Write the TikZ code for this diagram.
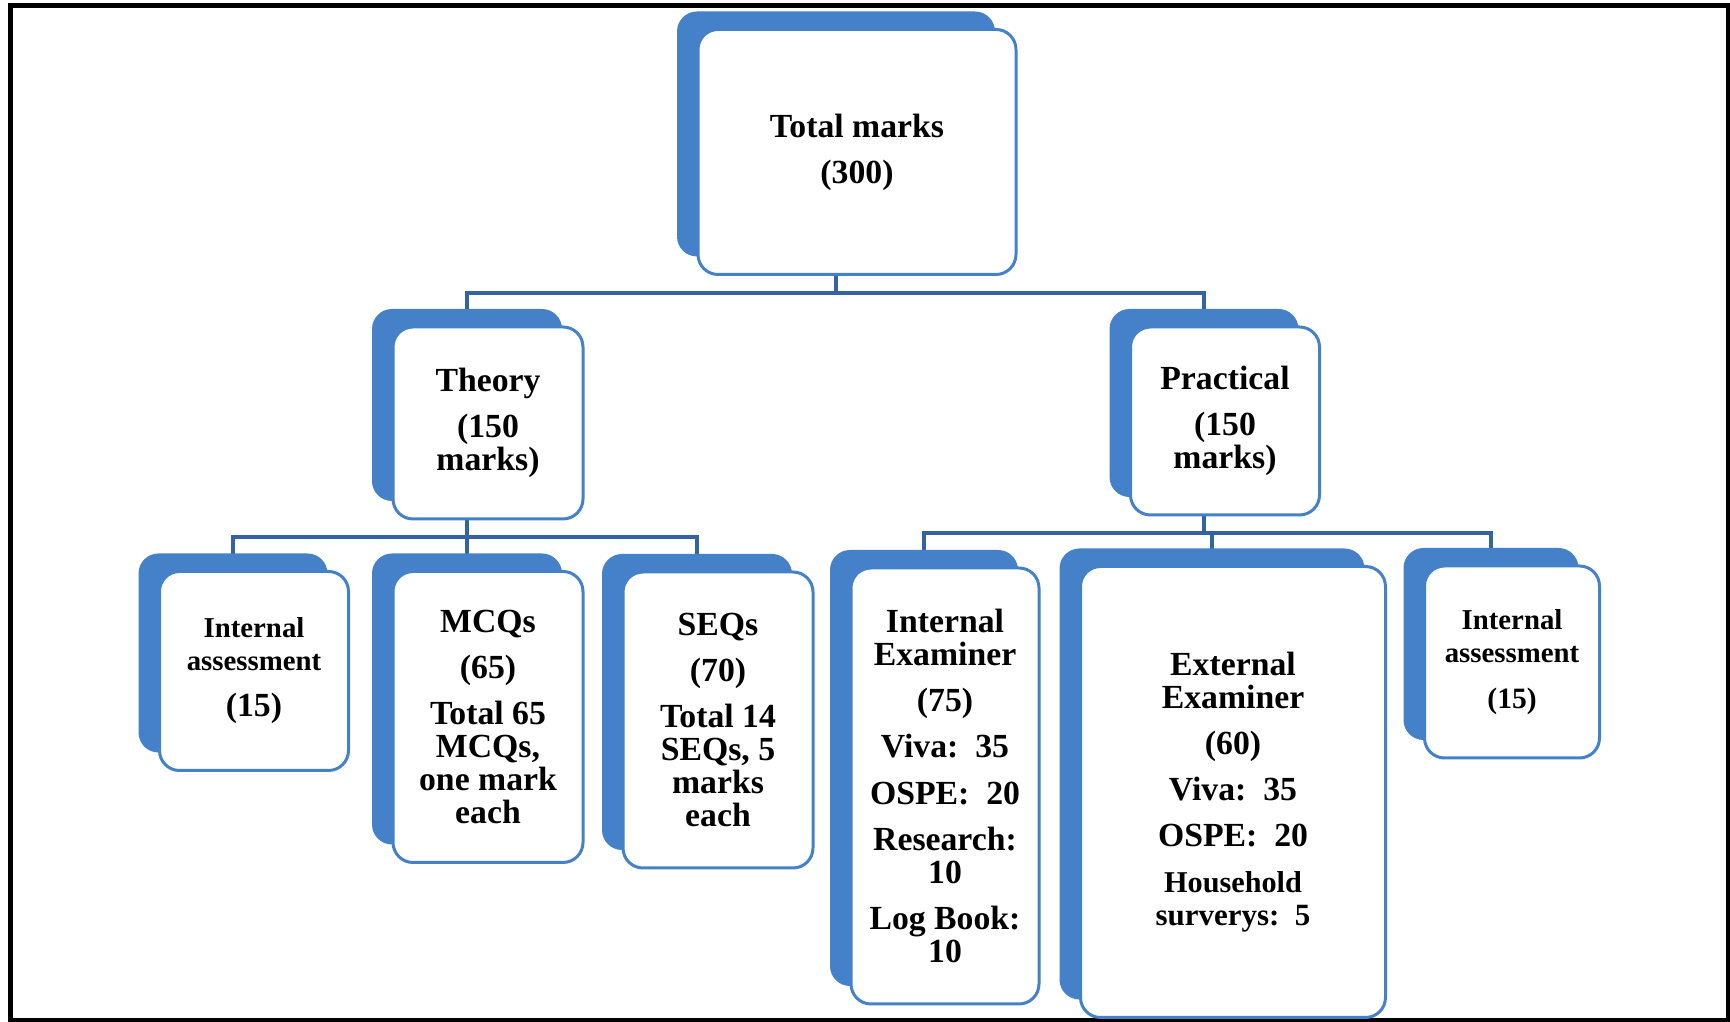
\documentclass[tikz,border=0pt]{standalone}
\usepackage{fontspec}
\setmainfont{Liberation Serif}
\usetikzlibrary{shadows,backgrounds}
\definecolor{cardblue}{RGB}{68,129,201}
\definecolor{linkblue}{RGB}{51,99,163}

\begin{document}
\begin{tikzpicture}[x=0.1mm,y=-0.1mm,
  card/.style={rectangle, rounded corners=2mm, draw=cardblue, line width=0.3mm,
    fill=white, align=center, inner sep=1pt,
    font=\bfseries\fontsize{9.6}{9.4}\selectfont,
    general shadow={fill=cardblue, shadow xshift=-2.1mm, shadow yshift=1.8mm}},
  link/.style={draw=linkblue, line width=0.4mm}]
  % tailles de police
  \def\nm{\fontsize{9.6}{9.4}\selectfont}
  \def\sm{\fontsize{8.2}{8.2}\selectfont}
  \def\gp{3.7pt}
  \useasboundingbox (0,0) rectangle (1730,1022);
  % cadre
  \draw[line width=0.5mm] (10.5,6) rectangle (1728.5,1020.5);

  % niveau 1
  \node[card, minimum width=31.8mm, minimum height=24.5mm] (total) at (857,152)
    {Total marks\\[\gp](300)};
  % niveau 2
  \node[card, minimum width=19mm, minimum height=19.2mm] (theory) at (488,423)
    {Theory\\[\gp](150\\marks)};
  \node[card, minimum width=18.9mm, minimum height=18.8mm] (practical) at (1225,421)
    {Practical\\[\gp](150\\marks)};
  % niveau 3 : theorie
  \node[card, minimum width=18.9mm, minimum height=19.9mm] (ia1) at (254,671)
    {\sm Internal\\\sm assessment\\[\gp]\nm (15)};
  \node[card, minimum width=19mm, minimum height=29.1mm] (mcq) at (488,717)
    {MCQs\\[\gp](65)\\[\gp]Total 65\\MCQs,\\one mark\\each};
  \node[card, minimum width=19mm, minimum height=29.6mm] (seq) at (718,720)
    {SEQs\\[\gp](70)\\[\gp]Total 14\\SEQs, 5\\marks\\each};
  % niveau 3 : pratique
  \node[card, minimum width=18.8mm, minimum height=43.6mm] (intex) at (945,786)
    {Internal\\Examiner\\[\gp](75)\\[\gp]Viva:~~35\\[\gp]OSPE:~~20\\[\gp]Research:\\10\\[\gp]Log Book:\\10};
  \node[card, minimum width=30.5mm, minimum height=45.1mm] (extex) at (1233,792)
    {External\\Examiner\\[\gp](60)\\[\gp]Viva:~~35\\[\gp]OSPE:~~20\\[\gp]\fontsize{8.6}{9.2}\selectfont Household\\\fontsize{8.8}{9.2}\selectfont surverys:~~5};
  \node[card, minimum width=17.5mm, minimum height=19.2mm] (ia2) at (1512,662)
    {\sm Internal\\\sm assessment\\[\gp]\fontsize{8.4}{9.2}\selectfont (15)};

  % liaisons
  \begin{scope}[on background layer]
    \foreach \p/\c in {total/theory, total/practical,
                       theory/ia1, theory/mcq, theory/seq,
                       practical/intex, practical/extex, practical/ia2}
      \draw[link] ([xshift=-2.1mm]\p.south) -- ++(0,17) -| ([xshift=-2.1mm]\c.north);
  \end{scope}
\end{tikzpicture}
\end{document}
